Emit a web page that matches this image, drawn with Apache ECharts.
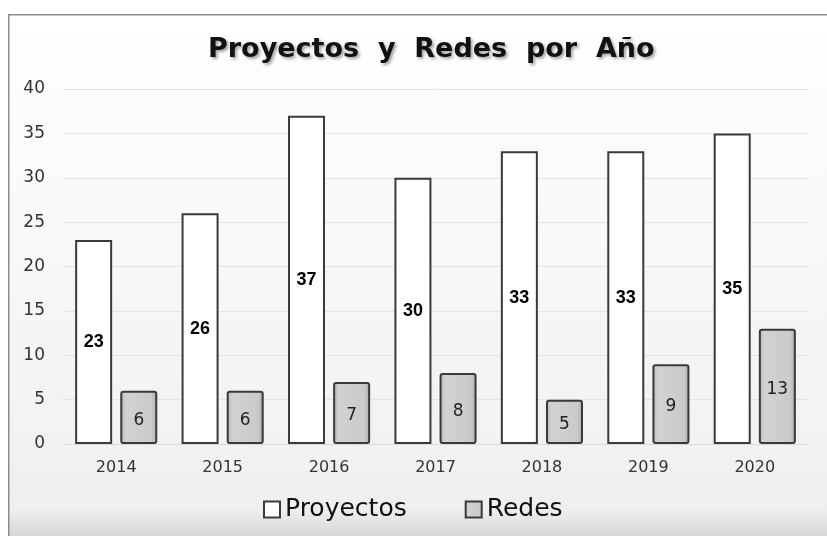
<!DOCTYPE html>
<html>
<head>
<meta charset="utf-8">
<style>
  html, body { margin: 0; padding: 0; background: #fff; }
  #chart { width: 827px; height: 536px; }
</style>
<script src="https://cdn.jsdelivr.net/npm/echarts@6/dist/echarts.min.js"></script>
</head>
<body>
<div id="chart"></div>
<script>
const years = ['2014', '2015', '2016', '2017', '2018', '2019', '2020']
const proyectos = [23, 26, 37, 30, 33, 33, 35]
const redes = [6, 6, 7, 8, 5, 9, 13]

let chart = echarts.init(document.getElementById('chart'))

let redesFill = new echarts.graphic.LinearGradient(0, 0, 1, 0, [
  { offset: 0, color: '#b4b4b4' },
  { offset: 0.15, color: '#d2d2d2' },
  { offset: 0.85, color: '#cacaca' },
  { offset: 1, color: '#a8a8a8' }
])

let opts = {
  animation: false,
  graphic: [{
    type: 'rect',
    left: 8, top: 14,
    shape: { width: 830, height: 530 },
    style: {
      fill: new echarts.graphic.LinearGradient(0, 0, 0, 1, [
        { offset: 0, color: '#ffffff' },
        { offset: 0.8, color: '#f2f2f2' },
        { offset: 0.93, color: '#efefef' },
        { offset: 1, color: '#cfcfcf' }
      ]),
      stroke: '#8c8c8c',
      lineWidth: 1.5
    },
    z: -10
  }],
  title: {
    text: 'Proyectos  y  Redes  por  Año',
    left: 203,
    top: 31,
    textStyle: {
      fontFamily: 'DejaVu Sans',
      fontWeight: 'bold',
      fontSize: 27,
      color: '#111',
      textShadowColor: 'rgba(0,0,0,0.35)',
      textShadowBlur: 3,
      textShadowOffsetX: 2,
      textShadowOffsetY: 2
    }
  },
  legend: {
    bottom: 9,
    left: 258,
    itemGap: 58,
    itemWidth: 16,
    itemHeight: 16,
    icon: 'rect',
    textStyle: { fontFamily: 'DejaVu Sans', fontSize: 25, color: '#111' },
    data: ['Proyectos', 'Redes']
  },
  grid: { left: 63, right: 19, top: 89, bottom: 92 },
  xAxis: {
    type: 'category',
    data: years,
    axisTick: { show: false },
    axisLine: { lineStyle: { color: '#d9d9d9' } },
    axisLabel: { fontFamily: 'DejaVu Sans', fontSize: 16, color: '#333', margin: 16 }
  },
  yAxis: {
    type: 'value',
    min: 0, max: 40, interval: 5,
    splitLine: { lineStyle: { color: '#e3e3e3' } },
    axisLabel: { fontFamily: 'DejaVu Sans', fontSize: 17, color: '#333', margin: 18 }
  },
  series: [{
    name: 'Proyectos',
    type: 'bar',
    data: proyectos,
    barWidth: 37,
    barGap: '22%',
    itemStyle: { color: '#ffffff', borderColor: '#3a3a3a', borderWidth: 2 },
    label: {
      show: true, position: 'inside',
      fontFamily: 'Liberation Sans', fontWeight: 'bold', fontSize: 18, color: '#000'
    }
  }, {
    name: 'Redes',
    type: 'bar',
    data: redes,
    barWidth: 37,
    itemStyle: { color: redesFill, borderColor: '#3a3a3a', borderWidth: 2, borderRadius: 2 },
    label: {
      show: true, position: 'inside', offset: [0, 3],
      fontFamily: 'DejaVu Sans', fontSize: 17, color: '#222'
    }
  }]
}
chart.setOption(opts)
</script>
</body>
</html>
